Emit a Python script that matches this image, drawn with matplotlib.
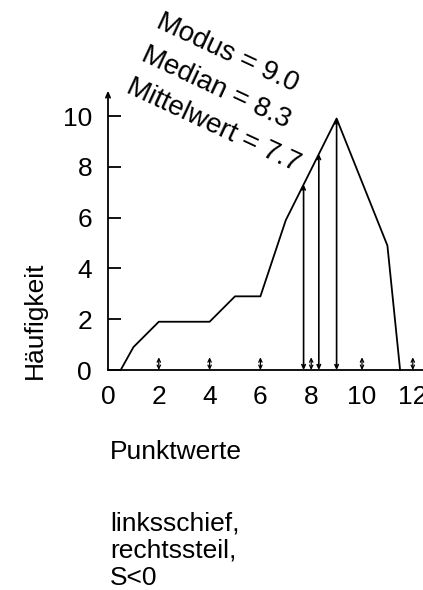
import numpy as np

import matplotlib
matplotlib.use('Agg')
import matplotlib.pyplot as plt

plt.rcParams['font.family'] = ['Liberation Sans', 'DejaVu Sans']

# Haeufigkeitspolygon
punkte = [0.5, 1, 2, 4, 5, 6, 7, 9, 11, 11.5]
haeufigkeit = [0, 0.9, 1.9, 1.9, 2.9, 2.9, 5.9, 9.9, 4.9, 0]

# Lagemasse
lage_namen = ['Mittelwert', 'Median', 'Modus']
lage_werte = [7.7, 8.3, 9.0]

x_ticks = [0, 2, 4, 6, 8, 10, 12]
y_ticks = [0, 2, 4, 6, 8, 10]
pfeil_ticks = [2, 4, 6, 8, 10, 12]

FS = 19
FS_ROT = 20
W, H = 423, 590

fig = plt.figure(figsize=(W / 100, H / 100), dpi=100)
ax = fig.add_axes([108 / W, 1 - 370 / H, 13 * 25.4 / W, 11 * 25.4 / H])
ax.set_xlim(0, 13)
ax.set_ylim(0, 11)

ax.plot(punkte, haeufigkeit, color='black', lw=1.3, clip_on=False)

arrow_small = dict(arrowstyle='<->,head_length=0.25,head_width=0.12',
                   color='black', lw=0.9, shrinkA=0, shrinkB=0)

# senkrechte Linien fuer Mittelwert, Median, Modus
for wert in lage_werte:
    oben = np.interp(wert, punkte, haeufigkeit)
    ax.annotate('', xy=(wert, oben), xytext=(wert, 0),
                arrowprops=dict(arrow_small, lw=1.2), annotation_clip=False)

# kleine Doppelpfeile als x-Ticks
for t in pfeil_ticks:
    ax.annotate('', xy=(t, 0.5), xytext=(t, 0),
                arrowprops=arrow_small, annotation_clip=False)

# y-Achse mit Pfeil
ax.annotate('', xy=(0, 11), xytext=(0, 0),
            arrowprops=dict(arrowstyle='->,head_length=0.35,head_width=0.15',
                            color='black', lw=1.3, shrinkA=0, shrinkB=0),
            annotation_clip=False)

for side in ['top', 'right', 'left']:
    ax.spines[side].set_visible(False)
ax.spines['bottom'].set_linewidth(1.3)

ax.set_xticks(x_ticks)
ax.set_yticks(y_ticks)
ax.tick_params(axis='x', length=0, pad=11, labelsize=FS)
ax.tick_params(axis='y', direction='in', length=9.5, width=1.3,
               pad=11.5, labelsize=FS)

# gedrehte Beschriftungen (Pixelpositionen der Grundlinie)
text_pos = [(125, 92), (140, 60), (155, 27)]
for name, wert, (px, py) in zip(lage_namen, lage_werte, text_pos):
    fig.text(px / W, 1 - py / H, '%s = %.1f' % (name, wert), fontsize=FS_ROT,
             rotation=-25, rotation_mode='anchor', ha='left', va='baseline')

fig.text(35 / W, 1 - 320 / H, 'Häufigkeit', fontsize=FS, rotation=90,
         ha='center', va='center')

fig.text(110 / W, 1 - 459 / H, 'Punktwerte', fontsize=FS, va='baseline')
for i, zeile in enumerate(['linksschief,', 'rechtssteil,', 'S<0']):
    fig.text(110 / W, 1 - (530 + 27.5 * i) / H, zeile, fontsize=FS,
             va='baseline')

plt.savefig('out.png', dpi=100)
plt.close()
